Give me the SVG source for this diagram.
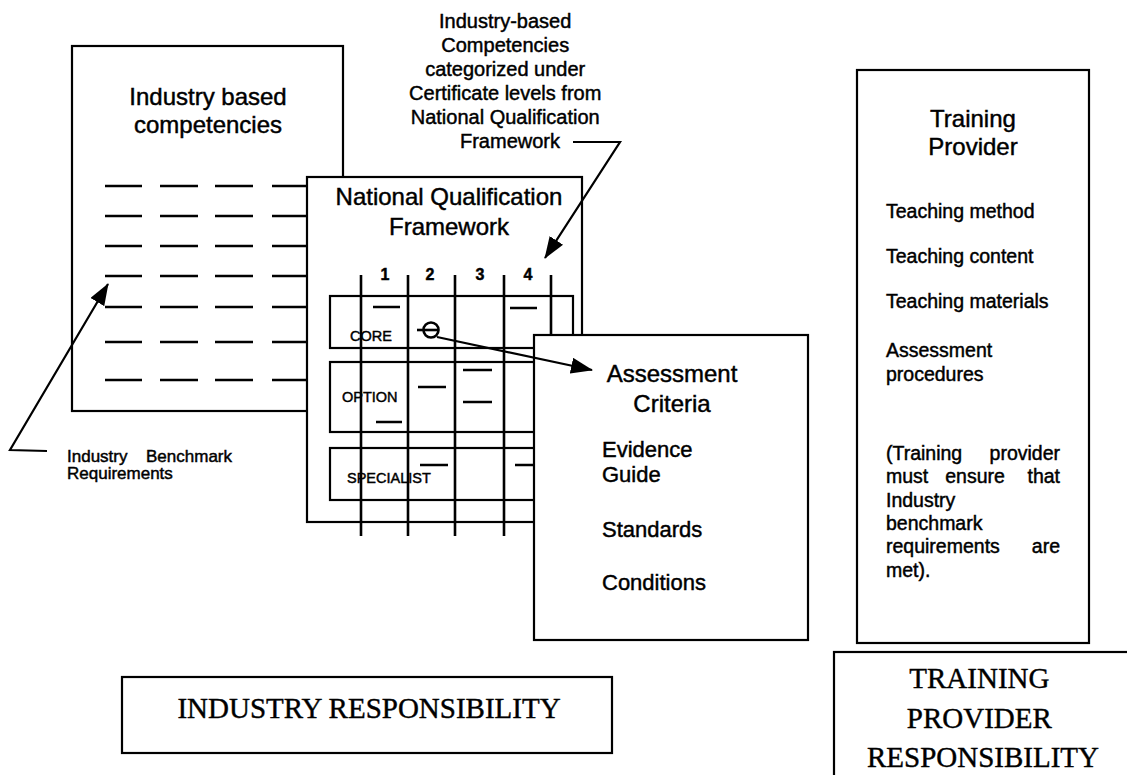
<svg xmlns="http://www.w3.org/2000/svg" width="1127" height="775" viewBox="0 0 1127 775">
  <defs>
    <style>
      .box{fill:#fff;stroke:#000;stroke-width:2.2}
      .rowbox{fill:none;stroke:#000;stroke-width:2.2}
      .dash{stroke:#000;stroke-width:2.4}
      .grid{stroke:#000;stroke-width:2.6}
      .wire{fill:none;stroke:#000;stroke-width:2.2}
      .sans{font-family:"Liberation Sans",Arial,sans-serif;fill:#000;stroke:#000;stroke-width:0.45}
      .serif{font-family:"Liberation Serif","Times New Roman",serif;fill:#000;stroke:#000;stroke-width:0.4}
      .title{font-size:24px}
      .body{font-size:22px}
      .tp{font-size:19.5px}
      .note{font-size:20px}
      .small{font-size:17px}
      .tag{font-size:14.5px}
      .num{font-size:16px;font-weight:bold}
      .resp{font-size:29px}
    </style>
    <marker id="head" markerUnits="userSpaceOnUse" markerWidth="22" markerHeight="16" refX="21" refY="8" orient="auto">
      <path d="M0,0 L22,8 L0,16 z" fill="#000"/>
    </marker>
  </defs>

  <rect width="1127" height="775" fill="#fff"/>

  <!-- Industry based competencies sheet -->
  <g id="industry-competencies">
    <rect class="box" x="72" y="46" width="271" height="365"/>
    <text class="sans title" x="208" y="105" text-anchor="middle">Industry based</text>
    <text class="sans title" x="208" y="133" text-anchor="middle">competencies</text>
    <g class="dash">
      <path d="M105 186h37M160 186h38M215 186h38M272 186h38
               M105 216h37M160 216h38M215 216h38M272 216h38
               M105 246h37M160 246h38M215 246h38M272 246h38
               M105 276h37M160 276h38M215 276h38M272 276h38
               M105 307h37M160 307h38M215 307h38M272 307h38
               M105 342h37M160 342h38M215 342h38M272 342h38
               M105 380h37M160 380h38M215 380h38M272 380h38"/>
    </g>
  </g>

  <!-- National Qualification Framework grid -->
  <g id="nqf">
    <rect class="box" x="307" y="177" width="275" height="345"/>
    <text class="sans title" x="449" y="205" text-anchor="middle">National Qualification</text>
    <text class="sans title" x="449" y="235" text-anchor="middle">Framework</text>
    <text class="sans num" x="385" y="280" text-anchor="middle">1</text>
    <text class="sans num" x="430" y="280" text-anchor="middle">2</text>
    <text class="sans num" x="480" y="280" text-anchor="middle">3</text>
    <text class="sans num" x="528" y="280" text-anchor="middle">4</text>
    <rect class="rowbox" x="330" y="296" width="243" height="52"/>
    <rect class="rowbox" x="330" y="362" width="243" height="70"/>
    <rect class="rowbox" x="330" y="448" width="243" height="52"/>
    <text class="sans tag" x="350" y="341">CORE</text>
    <text class="sans tag" x="342" y="402">OPTION</text>
    <text class="sans tag" x="347" y="483">SPECIALIST</text>
    <g class="dash">
      <path d="M373 307h27M510 308h27
               M418 387h28M463 370h29M463 402h29M376 422h26
               M420 465h28M515 465h22"/>
    </g>
    <g class="grid">
      <path d="M361 275V536M408 275V536M455 275V536M504 275V536M551 275V536"/>
    </g>
    <circle cx="431" cy="330" r="7.5" fill="none" stroke="#000" stroke-width="2.6"/>
    <path d="M417 330h22" stroke="#000" stroke-width="2.6"/>
  </g>

  <!-- Assessment criteria sheet -->
  <g id="assessment-criteria">
    <rect class="box" x="534" y="335" width="274" height="305"/>
    <text class="sans title" x="672" y="382" text-anchor="middle">Assessment</text>
    <text class="sans title" x="672" y="412" text-anchor="middle">Criteria</text>
    <text class="sans body" x="602" y="457">Evidence</text>
    <text class="sans body" x="602" y="482">Guide</text>
    <text class="sans body" x="602" y="537">Standards</text>
    <text class="sans body" x="602" y="590">Conditions</text>
  </g>

  <!-- Note on certificate levels -->
  <g id="certificate-note">
    <text class="sans note" text-anchor="middle">
      <tspan x="508" y="28">Industry-based</tspan>
      <tspan x="508" y="52">Competencies</tspan>
      <tspan x="508" y="76">categorized under</tspan>
      <tspan x="508" y="100">Certificate levels from</tspan>
      <tspan x="508" y="124">National Qualification</tspan>
      <tspan x="510" y="148">Framework</tspan>
    </text>
  </g>

  <!-- Benchmark label -->
  <g id="benchmark-label">
    <text class="sans small" x="67" y="462">Industry</text>
    <text class="sans small" x="232" y="462" text-anchor="end">Benchmark</text>
    <text class="sans small" x="67" y="479">Requirements</text>
  </g>

  <!-- Training provider sheet -->
  <g id="training-provider">
    <rect class="box" x="857" y="70" width="232" height="573"/>
    <text class="sans title" x="973" y="127" text-anchor="middle">Training</text>
    <text class="sans title" x="973" y="155" text-anchor="middle">Provider</text>
    <text class="sans tp" x="886" y="218">Teaching method</text>
    <text class="sans tp" x="886" y="263">Teaching content</text>
    <text class="sans tp" x="886" y="308">Teaching materials</text>
    <text class="sans tp" x="886" y="357">Assessment</text>
    <text class="sans tp" x="886" y="381">procedures</text>
    <g class="sans tp">
      <text x="886" y="460">(Training</text>
      <text x="1060" y="460" text-anchor="end">provider</text>
      <text x="886" y="483">must</text>
      <text x="975" y="483" text-anchor="middle">ensure</text>
      <text x="1060" y="483" text-anchor="end">that</text>
      <text x="886" y="507">Industry</text>
      <text x="886" y="530">benchmark</text>
      <text x="886" y="553">requirements</text>
      <text x="1060" y="553" text-anchor="end">are</text>
      <text x="886" y="577">met).</text>
    </g>
  </g>

  <!-- Responsibility banners -->
  <g id="industry-responsibility">
    <rect class="box" x="122" y="677" width="490" height="76"/>
    <text class="serif resp" x="369" y="718" text-anchor="middle">INDUSTRY RESPONSIBILITY</text>
  </g>
  <g id="provider-responsibility">
    <rect class="box" x="834" y="652" width="310" height="140"/>
    <text class="serif resp" text-anchor="middle">
      <tspan x="983" y="688">TRAINING</tspan>
      <tspan x="983" y="728">PROVIDER</tspan>
      <tspan x="983" y="767">RESPONSIBILITY</tspan>
    </text>
  </g>

  <!-- Connectors -->
  <g id="connectors">
    <polyline class="wire" points="47,451 10,450 108,284" marker-end="url(#head)"/>
    <polyline class="wire" points="573,142 620,142 545,258" marker-end="url(#head)"/>
    <line class="wire" x1="437" y1="337" x2="592" y2="370" marker-end="url(#head)"/>
  </g>
</svg>
